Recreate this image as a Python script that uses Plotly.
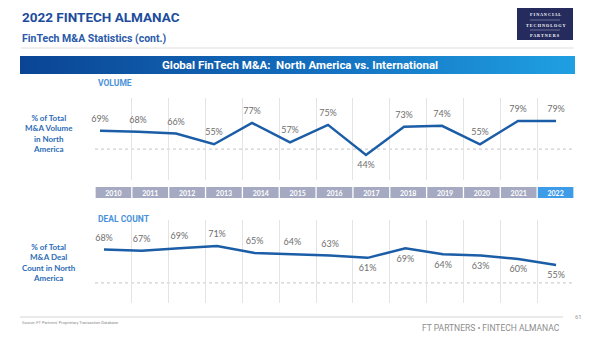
import base64
import plotly.graph_objects as go

# ---------------- data ----------------
years = list(range(2010, 2023))
year_labels = [str(y) for y in years]
volume_pct = [69, 68, 66, 55, 77, 57, 75, 44, 73, 74, 55, 79, 79]
deal_pct = [68, 67, 69, 71, 65, 64, 63, 61, 69, 64, 63, 60, 55]
volume_label_side = ["top", "top", "top", "top", "top", "top", "top", "bottom",
                     "top", "top", "top", "top", "top"]
deal_label_side = ["top", "top", "top", "top", "top", "top", "top", "bottom",
                   "bottom", "bottom", "bottom", "bottom", "bottom"]
highlight_year = 2022
volume_ref = 50
deal_ref = 40

# ---------------- helpers ----------------
W, H = 600, 337


def fx(p):
    return p / W


def fy(p):
    return 1 - p / H


LINE_COLOR = "#1b5da6"
LABEL_COLOR = "#6e6e6e"
BLUE_TXT = "#2c6cb6"
GRID = "#e4e4e4"

idx = list(range(len(years)))
x_dom = [fx(95), fx(574)]

fig = go.Figure()

# grid backgrounds (vertical separators between year columns)
fig.add_trace(go.Scatter(x=[], y=[], xaxis="x", yaxis="y", showlegend=False))
fig.add_trace(go.Scatter(x=[], y=[], xaxis="x3", yaxis="y3", showlegend=False))

# volume line
fig.add_trace(go.Scatter(
    x=years, y=volume_pct, xaxis="x2", yaxis="y2", mode="lines+markers+text",
    line=dict(color=LINE_COLOR, width=2.5),
    marker=dict(size=9, color="rgba(0,0,0,0)", line=dict(width=0)),
    text=[f"{v}%" for v in volume_pct],
    textposition=[s + " center" for s in volume_label_side],
    textfont=dict(family="Lato", size=9, color=LABEL_COLOR),
    cliponaxis=False, showlegend=False, hoverinfo="skip"))

# deal count line
fig.add_trace(go.Scatter(
    x=years, y=deal_pct, xaxis="x4", yaxis="y4", mode="lines+markers+text",
    line=dict(color=LINE_COLOR, width=2.5),
    marker=dict(size=9, color="rgba(0,0,0,0)", line=dict(width=0)),
    text=[f"{v}%" for v in deal_pct],
    textposition=[s + " center" for s in deal_label_side],
    textfont=dict(family="Lato", size=9, color=LABEL_COLOR),
    cliponaxis=False, showlegend=False, hoverinfo="skip"))

# year header boxes
fig.add_trace(go.Bar(
    x=idx, y=[1] * len(years), xaxis="x5", yaxis="y5", width=0.965,
    marker=dict(color=["#3d9be8" if y == highlight_year else "#a5aac2" for y in years],
                line=dict(width=0)),
    text=[f"<b>{t}</b>" for t in year_labels], textposition="inside",
    insidetextanchor="middle", constraintext="none",
    textfont=dict(family="Lato", size=7, color="white"),
    showlegend=False, hoverinfo="skip"))

grid_ticks = [i + 0.5 for i in idx[:-1]]
hidden = dict(visible=False, fixedrange=True)


def grid_x(anchor):
    return dict(domain=x_dom, range=[-0.5, len(years) - 0.5], tickvals=grid_ticks,
                showgrid=True, gridcolor=GRID, gridwidth=1, showticklabels=False,
                zeroline=False, showline=False, ticks="", anchor=anchor)


# line axes: place points to match the column layout of the reference
vol_step = 38.0
vol_r0 = years[0] - 5 / vol_step
deal_step = 37.67
deal_r0 = years[0] - 9 / deal_step

fig.update_layout(
    width=W, height=H, autosize=False,
    margin=dict(l=0, r=0, t=0, b=0),
    paper_bgcolor="white", plot_bgcolor="rgba(0,0,0,0)",
    xaxis=grid_x("y"),
    yaxis=dict(domain=[fy(180), fy(98)], range=[0, 1], **hidden),
    xaxis2=dict(domain=x_dom, range=[vol_r0, vol_r0 + 479 / vol_step], anchor="y2", **hidden),
    yaxis2=dict(domain=[fy(158.8), fy(115.2)], range=[40, 85], anchor="x2", **hidden),
    xaxis3=grid_x("y3"),
    yaxis3=dict(domain=[fy(303), fy(220)], range=[0, 1], **hidden),
    xaxis4=dict(domain=x_dom, range=[deal_r0, deal_r0 + 479 / deal_step], anchor="y4", **hidden),
    yaxis4=dict(domain=[fy(288.8), fy(241.2)], range=[35, 75], anchor="x4", **hidden),
    xaxis5=dict(domain=x_dom, range=[-0.5, len(years) - 0.5], anchor="y5", **hidden),
    yaxis5=dict(domain=[fy(198), fy(187)], range=[0, 1], anchor="x5", **hidden),
)

# dashed reference lines
for xr, yr, val in (("x2", "y2", volume_ref), ("x4", "y4", deal_ref)):
    fig.add_shape(type="line", xref=f"{xr} domain", yref=yr, x0=0, x1=1, y0=val, y1=val,
                  line=dict(color="#cfcfcf", width=1.2, dash="3px,3px"), layer="below")

# header separator and footer line
fig.add_shape(type="line", xref="paper", yref="paper", x0=fx(21), x1=fx(574),
              y0=fy(48), y1=fy(48), line=dict(color="#e2dcdc", width=1))
fig.add_shape(type="line", xref="paper", yref="paper", x0=fx(20), x1=fx(563),
              y0=fy(317), y1=fy(317), line=dict(color="#d4d4d4", width=1))

# logo box
fig.add_shape(type="rect", xref="paper", yref="paper", x0=fx(517), x1=fx(573),
              y0=fy(40), y1=fy(8), fillcolor="#252c5d", line=dict(width=0))
for yy in (20, 30):
    fig.add_shape(type="line", xref="paper", yref="paper", x0=fx(530), x1=fx(560),
                  y0=fy(yy), y1=fy(yy), line=dict(color="#9aa0c0", width=0.6))

# gradient banner
svg = ("<svg xmlns='http://www.w3.org/2000/svg' width='555' height='18'>"
       "<defs><linearGradient id='g' x1='0' x2='1' y1='0' y2='0'>"
       "<stop offset='0' stop-color='#0a4594'/><stop offset='0.55' stop-color='#1470c0'/>"
       "<stop offset='1' stop-color='#1fa0e2'/></linearGradient></defs>"
       "<rect width='555' height='18' fill='url(#g)'/></svg>")
src = "data:image/svg+xml;base64," + base64.b64encode(svg.encode()).decode()
fig.add_layout_image(source=src, xref="paper", yref="paper", x=fx(20), y=fy(56),
                     sizex=555 / W, sizey=18 / H, sizing="stretch",
                     xanchor="left", yanchor="top", layer="below")


def ann(text, x, y, size, color, family="Roboto", xanchor="left", yanchor="middle",
        align="left"):
    fig.add_annotation(text=text, x=fx(x), y=fy(y), xref="paper", yref="paper",
                       showarrow=False, xanchor=xanchor, yanchor=yanchor, align=align,
                       font=dict(family=family, size=size, color=color))


ann("<b>2022 FINTECH ALMANAC</b>", 20, 17, 13.5, "#1d4c9c")
ann("<b>FinTech M&A Statistics (cont.)</b>", 20, 38, 10.5, "#2a5aa8")
ann("<b>Global FinTech M&A:  North America vs. International</b>", 300, 65, 11.5, "white",
    xanchor="center")
ann("<b>VOLUME</b>", 96, 83, 8.5, "#4a92da")
ann("<b>DEAL COUNT</b>", 96, 219, 8.5, "#4a92da")
ann("<b>% of Total<br>M&A Volume<br>in North<br>America</b>", 49, 133.5, 8, BLUE_TXT,
    family="Lato", xanchor="center", align="center")
ann("<b>% of Total<br>M&A Deal<br>Count in North<br>America</b>", 49, 262.5, 8, BLUE_TXT,
    family="Lato", xanchor="center", align="center")

# logo text
for t, yy in (("F I N A N C I A L", 15), ("T E C H N O L O G Y", 25), ("P A R T N E R S", 35)):
    ann(f"<b>{t}</b>", 545, yy, 4.2, "white", family="Liberation Serif", xanchor="center")

# footer
ann("Source: FT Partners' Proprietary Transaction Database", 20, 322, 4, "#8a8a8a")
ann("FT PARTNERS • FINTECH ALMANAC", 562, 328, 8.5, "#8d8d8d", xanchor="right")
ann("61", 578, 316, 6, "#9a9a9a", xanchor="center")

fig.write_html("out.html")
